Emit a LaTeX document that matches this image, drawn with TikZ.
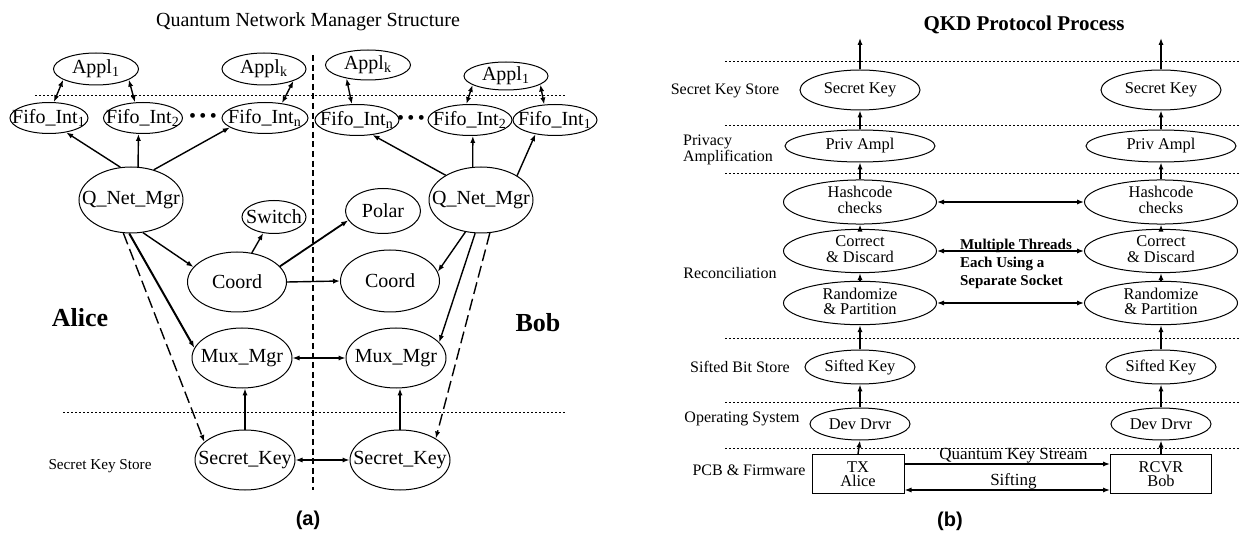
\documentclass[tikz,border=0pt]{standalone}
\usepackage{fontspec}
\setmainfont{Liberation Serif}
\newfontfamily\capfont{Liberation Sans}
\usetikzlibrary{arrows.meta,shapes.geometric}

% text boxes of no width, so that the ellipse hugs the text
\newcommand{\inell}[1]{\makebox[0pt]{#1}}
\newcommand{\inelltwo}[2]{\makebox[0pt]{\begin{tabular}{@{}c@{}}#1\\#2\end{tabular}}}

\begin{document}
\begin{tikzpicture}[x=0.5pt,y=-0.5pt,
  >={Latex[length=3.5pt,width=2.6pt]},
  mgr/.style={ellipse,draw,line width=0.5pt,inner sep=0pt,font=\fontsize{10}{11}\selectfont},
  proc/.style={ellipse,draw,line width=0.5pt,inner sep=0pt,font=\fontsize{8.2}{7}\selectfont},
  board/.style={rectangle,draw,line width=0.5pt,align=center,minimum height=19.5pt,font=\fontsize{8.2}{7}\selectfont},
  sz/.style 2 args={minimum width=#1,minimum height=#2},
  link/.style={->,line width=0.7pt},
  twoway/.style={<->,line width=0.7pt},
  keylink/.style={->,line width=0.7pt,dash pattern=on 6pt off 2.5pt},
  layer/.style={line width=0.4pt,dash pattern=on 1pt off 1pt},
  layername/.style={font=\fontsize{8}{7}\selectfont},
]
\useasboundingbox (0,0) rectangle (1243,534);

%%% (a) network manager
\node[font=\fontsize{10}{12}\selectfont] (titleA) at (308,22) {Quantum Network Manager Structure};
\draw[layer] (35,95) -- (567,95);
\draw[layer] (63,412) -- (566,412);
\draw[line width=0.6pt,dash pattern=on 3pt off 1.8pt] (313,55) -- (313,490);

% Alice
\node[mgr,sz={42.5pt}{16pt}] (applA1) at (96,69) {\inell{Appl\textsubscript{1}}};
\node[mgr,sz={42pt}{16pt}] (applAk) at (264,69) {\inell{Appl\textsubscript{k}}};
\node[mgr,sz={39pt}{15.5pt}] (fifoA1) at (49,118) {\inell{Fifo\_Int\textsubscript{1}}};
\node[mgr,sz={39.5pt}{15.5pt}] (fifoA2) at (143,118) {\inell{Fifo\_Int\textsubscript{2}}};
\node[mgr,sz={43pt}{15.5pt}] (fifoAn) at (265,118) {\inell{Fifo\_Int\textsubscript{n}}};
\node (dotsA) at (203,118) {\textbullet\,\textbullet\,\textbullet};
\node[mgr,sz={52pt}{33pt}] (qnmA) at (131,200) {\inell{Q\_Net\_Mgr}};
\node[mgr,sz={32pt}{16.5pt}] (switch) at (274,217) {\inell{Switch}};
\node[mgr,sz={49.5pt}{30pt}] (coordA) at (237,282) {\inell{Coord}};
\node[mgr,sz={50pt}{30pt}] (muxA) at (242,358) {\inell{Mux\_Mgr}};
\node[mgr,sz={50pt}{30pt}] (keyA) at (245,460) {\inell{Secret\_Key}};
\node[font=\bfseries\fontsize{13}{15}\selectfont] (alice) at (80,318) {Alice};

% Bob
\node[mgr,sz={42.5pt}{15pt}] (applBk) at (368,65) {\inell{Appl\textsubscript{k}}};
\node[mgr,sz={42pt}{14pt}] (applB1) at (506,76) {\inell{Appl\textsubscript{1}}};
\node[mgr,sz={42pt}{15.5pt}] (fifoBn) at (357,120) {\inell{Fifo\_Int\textsubscript{n}}};
\node[mgr,sz={42pt}{15.5pt}] (fifoB2) at (470,120) {\inell{Fifo\_Int\textsubscript{2}}};
\node[mgr,sz={42pt}{15.5pt}] (fifoB1) at (555,120) {\inell{Fifo\_Int\textsubscript{1}}};
\node (dotsB) at (411,120) {\textbullet\,\textbullet\,\textbullet};
\node[mgr,sz={52pt}{33pt}] (qnmB) at (481,200) {\inell{Q\_Net\_Mgr}};
\node[mgr,sz={37.5pt}{22.5pt}] (polar) at (383,211) {\inell{Polar}};
\node[mgr,sz={49.5pt}{31pt}] (coordB) at (390,281) {\inell{Coord}};
\node[mgr,sz={50pt}{30pt}] (muxB) at (396,358) {\inell{Mux\_Mgr}};
\node[mgr,sz={50pt}{30pt}] (keyB) at (400,460) {\inell{Secret\_Key}};
\node[font=\bfseries\fontsize{13}{15}\selectfont] (bob) at (538,323) {Bob};

\node[font=\fontsize{7.6}{8}\selectfont] (storeA) at (100,466) {Secret Key Store};
\node[font=\capfont\bfseries\fontsize{10}{12}\selectfont] (capA) at (308,520) {(a)};

% Alice links
\draw[twoway] (applA1.198) -- (fifoA1.73);
\draw[twoway] (applA1.342) -- (fifoA2.117);
\draw[twoway] (applAk.338) -- (fifoAn.41);
\draw[link] (qnmA.108) -- (fifoA1.320);
\draw[link] (qnmA.78) -- (fifoA2.254);
\draw[link] (qnmA.53) -- (fifoAn.195);
\draw[link] (qnmA.290) -- (coordA.161);
\draw[link,line width=1pt] (qnmA.267) -- (muxA.168);
\draw[keylink] (qnmA.257) -- (keyA.156);
\draw[link] (coordA.63) -- (switch.236);
\draw[link,line width=0.9pt] (coordA.20) -- (polar.195);
\draw[link] (keyA.north) -- (keyA.north |- muxA.south);

% Bob links
\draw[twoway] (applBk.212) -- (fifoBn.108);
\draw[twoway] (applB1.195) -- (fifoB2.103);
\draw[twoway] (applB1.346) -- (fifoB1.125);
\draw[link] (qnmB.145) -- (fifoBn.316);
\draw[link] (qnmB.104) -- (fifoB2.280);
\draw[link] (qnmB.34) -- (fifoB1.216);
\draw[link] (qnmB.244) -- (coordB.11);
\draw[link] (qnmB.260) -- (muxB.20);
\draw[keylink] (qnmB.285) -- (keyB.31);
\draw[link] (keyB.north) -- (keyB.north |- muxB.south);

% across the line
\draw[link] (coordA.east) -- (coordB.west);
\draw[twoway] (muxA.east) -- (muxB.west);
\draw[twoway] (keyA.east) -- (keyB.west);

%%% (b) protocol stack
\node[font=\bfseries\fontsize{10.5}{12}\selectfont] (titleB) at (1024,25) {QKD Protocol Process};
\foreach \y in {61,125,173,338,402,448}
  \draw[layer] (725,\y) -- (1240,\y);

\foreach \s/\x in {A/860,B/1161} {
  \node[proc,sz={60pt}{20pt}] (sk\s) at (\x,90) {\inell{Secret Key}};
  \node[proc,sz={75pt}{16pt}] (pa\s) at (\x,146) {\inell{Priv Ampl}};
  \node[proc,sz={76.5pt}{21pt}] (hc\s) at (\x,202) {\inelltwo{Hashcode}{checks}};
  \node[proc,sz={76.5pt}{20pt}] (cd\s) at (\x,251) {\inelltwo{Correct}{\& Discard}};
  \node[proc,sz={76.5pt}{19pt}] (rp\s) at (\x,303) {\inelltwo{Randomize}{\& Partition}};
  \node[proc,sz={55pt}{17pt}] (sf\s) at (\x,367) {\inell{Sifted Key}};
  \node[proc,sz={50pt}{16pt}] (dd\s) at (\x,424) {\inell{Dev Drvr}};
  \coordinate (out\s) at (\x,38);
}
\node[board,minimum width=46pt] (hwA) at (858,474) {TX\\Alice};
\node[board,minimum width=50.5pt] (hwB) at (1161,474) {RCVR\\Bob};

\foreach \s in {A,B} {
  \foreach \lo/\hi in {hw/dd,dd/sf,sf/rp,rp/cd,cd/hc,hc/pa,pa/sk}
    \draw[link] (\lo\s.north) -- (\hi\s.south);
  \draw[link] (sk\s.north) -- (out\s);
}
\foreach \n in {hc,cd,rp}
  \draw[twoway,line width=1.1pt] (\n A.east) -- (\n B.west);

\node[font=\bfseries\fontsize{7.5}{9}\selectfont,align=left,anchor=west] (threads) at (953,264) {Multiple Threads\\Each Using a\\Separate Socket};

\draw[link] ([yshift=5pt]hwA.east) -- ([yshift=5pt]hwB.west)
  node[pos=0.53,above,inner sep=0pt,font=\fontsize{8.5}{10}\selectfont] {Quantum Key Stream};
\draw[twoway] ([yshift=-8pt]hwA.east) -- ([yshift=-8pt]hwB.west)
  node[pos=0.53,above,inner sep=0pt,font=\fontsize{8.5}{10}\selectfont] {Sifting};

\node[layername] (lsk) at (725,91) {Secret Key Store};
\node[layername,align=left] (lpa) at (728,150) {Privacy\\Amplification};
\node[layername] (lrc) at (730,273) {Reconciliation};
\node[layername] (lsb) at (740,367) {Sifted Bit Store};
\node[layername] (los) at (742,419) {Operating System};
\node[layername] (lpf) at (749,470) {PCB \& Firmware};
\node[font=\capfont\bfseries\fontsize{10}{12}\selectfont] (capB) at (950,521) {(b)};

\end{tikzpicture}
\end{document}
